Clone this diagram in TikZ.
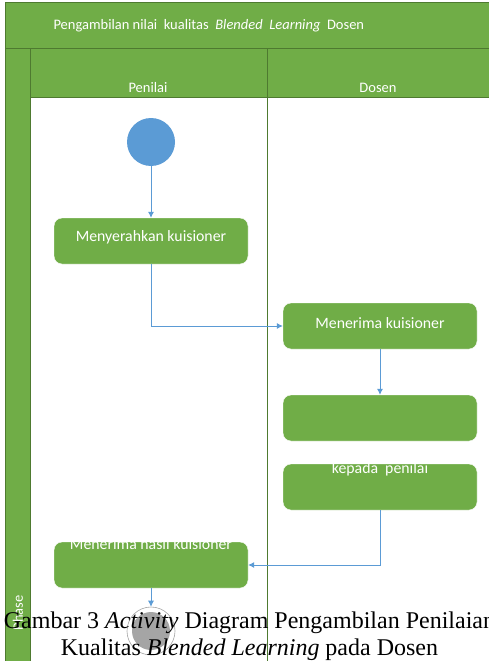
\documentclass[tikz,border=0pt]{standalone}
\usepackage{fontspec}
\setmainfont{Liberation Serif}
\newfontfamily\calib{Carlito}
\usetikzlibrary{arrows.meta}

\definecolor{ofgreen}{HTML}{70AD47}
\definecolor{ofgreendark}{HTML}{4E7A30}
\definecolor{ofblue}{HTML}{5B9BD5}
\definecolor{ofgray}{HTML}{A5A5A5}

\tikzset{
  actbox/.style={rectangle, rounded corners=8pt, fill=ofgreen, draw=white, minimum width=194pt, minimum height=46pt, inner sep=0pt},
  acttext/.style={text=white, font=\calib\fontsize{15.8}{19}\selectfont},
  headtext/.style={text=white, font=\calib\fontsize{14.5}{17}\selectfont},
  band/.style={fill=ofgreen, draw=ofgreendark, line width=1pt},
  flow/.style={draw=ofblue, line width=0.8pt, -{Latex[length=6pt,width=6pt]}},
}

\begin{document}
\begin{tikzpicture}[x=1pt, y=-1pt]
        \useasboundingbox (0,0) rectangle (489,661);

        % swimlane frame
        \draw[band] (5,3) rectangle (492,49);
        \draw[band] (5,49) rectangle (30,670);
        \draw[band] (30,49) rectangle (267,97);
        \draw[band] (267,49) rectangle (492,97);
        \draw[ofgreendark, line width=1pt, fill=white] (30,97) rectangle (267,670);
        \draw[ofgreendark, line width=1pt, fill=white] (267,97) rectangle (492,670);

        \node[headtext, anchor=west] (judul) at (50,26) {Pengambilan nilai\ \ kualitas\ \ \textit{Blended\ \ Learning}\ \ Dosen};
        \node[headtext] (penilai) at (148,88) {Penilai};
        \node[headtext] (dosen) at (378,88) {Dosen};
        \node[headtext, rotate=90] (fase) at (18,613) {Phase};

        % aktivitas
        \node[circle, fill=ofblue, minimum size=48pt, inner sep=0pt] (mulai) at (151,142) {};
        \node[actbox] (serah) at (151,241) {};
        \node[acttext] at (151,237) {Menyerahkan kuisioner};
        \node[actbox] (terima) at (380,326) {};
        \node[acttext] at (380,323) {Menerima kuisioner};
        \node[actbox] (isi) at (380,418) {};
        \node[actbox] (beri) at (380,487) {};
        \node[acttext] at (380,469) {kepada\ \ penilai};
        \node[actbox] (hasil) at (151,565) {};
        \node[acttext] at (151,544) {Menerima hasil kuisioner};
        \node[circle, draw=ofgray, line width=0.6pt, fill=white, minimum size=48pt, inner sep=0pt] (selesai) at (151,631) {};
        \node[circle, fill=ofgray, minimum size=38pt, inner sep=0pt] at (selesai) {};

        \draw[flow] (mulai) -- (serah);
        \draw[flow] (serah.south) |- (terima.west);
        \draw[flow] (terima) -- (isi);
        \draw[flow] (beri.south) |- (hasil.east);
        \draw[flow] (hasil) -- (selesai);

        % keterangan gambar
        \node[font=\fontsize{24}{27}\selectfont, align=center, inner sep=0pt] (keterangan) at (249.5,636)
          {Gambar 3 \textit{Activity} Diagram Pengambilan Penilaian\\Kualitas \textit{Blended Learning} pada Dosen};

    \end{tikzpicture}
\end{document}
